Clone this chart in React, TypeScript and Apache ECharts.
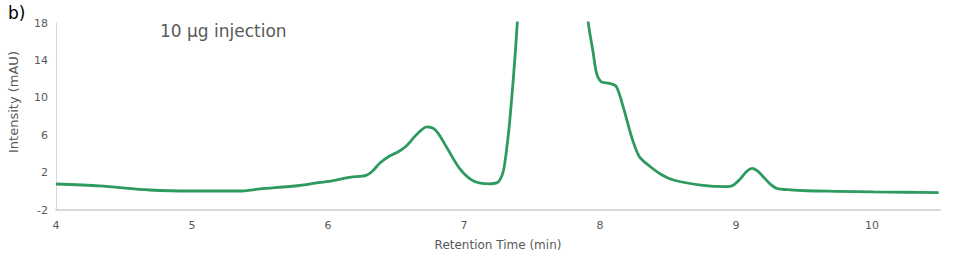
import React, { useEffect, useRef } from "react";
import * as echarts from "echarts";

const times = [
  4.0, 4.32, 4.69, 5.0, 5.35, 5.5, 5.79, 5.94, 6.0, 6.16, 6.28, 6.33, 6.38, 6.45, 6.52, 6.58, 6.64, 6.69, 6.725, 6.79,
  6.87, 6.97, 7.07, 7.19, 7.24, 7.265, 7.29, 7.31, 7.33, 7.35, 7.375, 7.4, 7.45, 7.55, 7.65, 7.75, 7.85, 7.91, 7.95,
  7.975, 8.01, 8.07, 8.12, 8.17, 8.235, 8.29, 8.37, 8.45, 8.54, 8.74, 8.93, 8.98, 9.03, 9.08, 9.12, 9.16, 9.2, 9.25,
  9.3, 9.4, 9.52, 9.75, 10.01, 10.25, 10.49,
];
const intensity = [
  0.78, 0.57, 0.14, 0.03, 0.03, 0.25, 0.62, 0.95, 1.05, 1.5, 1.7, 2.2, 3.0, 3.75, 4.25, 4.9, 5.9, 6.6, 6.88, 6.55,
  4.77, 2.4, 1.1, 0.8, 0.9, 1.25, 2.2, 4.1, 6.6, 9.8, 14.4, 20, 35, 60, 80, 60, 30, 18.5, 14.8,
  12.6, 11.7, 11.55, 11.2, 9.05, 5.7, 3.7, 2.63, 1.8, 1.21, 0.67, 0.49, 0.65, 1.3, 2.15, 2.45, 2.15, 1.56, 0.8,
  0.32, 0.15, 0.06, 0.0, -0.07, -0.1, -0.15,
];
const yTicks = [-2, 2, 6, 10, 14, 18];
const xTicks = [4, 5, 6, 7, 8, 9, 10];

const FONT = "DejaVu Sans";
const GREY = "#595959";

export default function App() {
  const ref = useRef<HTMLDivElement>(null);
  useEffect(() => {
    if (!ref.current) return;
    const chart = echarts.init(ref.current, undefined, { renderer: "svg" });
    const data = times.map((t, i) => [t, intensity[i]]);
    chart.setOption({
      animation: false,
      textStyle: { fontFamily: FONT },
      grid: { left: 56, right: 20, top: 23, bottom: 50, containLabel: false, outerBoundsMode: "none" },
      xAxis: {
        type: "value",
        min: xTicks[0],
        max: 10.5,
        interval: 1,
        name: "Retention Time (min)",
        nameLocation: "middle",
        nameGap: 29,
        nameTextStyle: { color: GREY, fontSize: 12, fontFamily: FONT },
        axisLine: { show: true, onZero: false, lineStyle: { color: "#d9d9d9", width: 2 } },
        axisTick: { show: false },
        splitLine: { show: false },
        axisLabel: { color: GREY, fontSize: 11, fontFamily: FONT, showMaxLabel: false, margin: 10 },
      },
      yAxis: {
        type: "value",
        min: yTicks[0],
        max: yTicks[yTicks.length - 1],
        interval: 4,
        axisLine: { show: true, onZero: false, lineStyle: { color: "#d9d9d9", width: 1 } },
        axisTick: { show: false },
        splitLine: { show: false },
        axisLabel: { color: GREY, fontSize: 11, fontFamily: FONT, margin: 8 },
      },
      graphic: [
        { type: "text", left: 8, top: 4, style: { text: "b)", fontSize: 17, fill: "#000", fontFamily: FONT } },
        { type: "text", left: 160, top: 22, style: { text: "10 µg injection", fontSize: 17, fill: GREY, fontFamily: FONT } },
        {
          type: "text",
          x: 13,
          y: 102,
          rotation: Math.PI / 2,
          style: {
            text: "Intensity (mAU)",
            fontSize: 13,
            fill: GREY,
            fontFamily: FONT,
            align: "center",
            verticalAlign: "middle",
          },
        },
      ],
      series: [
        {
          type: "line",
          data,
          smooth: 0.3,
          showSymbol: false,
          clip: true,
          lineStyle: { color: "#2e9a5f", width: 2.8 },
        },
      ],
    });
    return () => chart.dispose();
  }, []);
  return <div ref={ref} style={{ width: 960, height: 260, position: "absolute", left: 0, top: 0 }} />;
}
